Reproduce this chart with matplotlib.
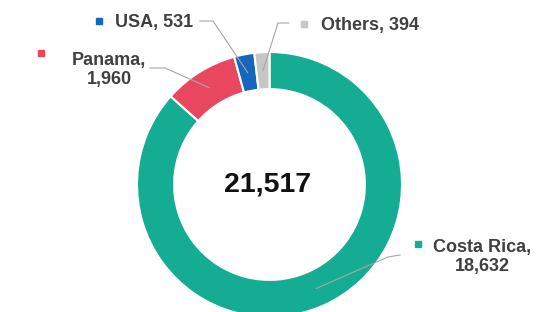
import matplotlib.pyplot as plt
import numpy as np

# data
countries = ['Costa Rica', 'Panama', 'USA', 'Others']
values = [18632, 1960, 531, 394]
colors = ['#14ad94', '#e8475f', '#1766bd', '#c6c6c6']

W, H = 539, 312
cx, cy, R = 269.5, 184.5, 132.5   # donut centre / radius in pixels


def px(x, y):
    # pixel position (origin top-left) -> data coords
    return (x - cx) / R, (cy - y) / R


fig = plt.figure(figsize=(W / 100, H / 100), dpi=100)
ax = fig.add_axes([0, 0, 1, 1])

wedges, _ = ax.pie(values, colors=colors, startangle=90, counterclock=False,
                   radius=1, wedgeprops=dict(width=0.28, edgecolor='white', linewidth=1.5))
ax.set_xlim(-cx / R, (W - cx) / R)
ax.set_ylim(-(H - cy) / R, cy / R)
ax.set_aspect('equal')
ax.axis('off')

total = sum(values)
ax.text(*px(268, 184), f'{total:,}', ha='center', va='center',
        fontsize=20.5, fontweight='bold', color='#111111', family='Liberation Sans')

# label layout: marker pos, text pos, alignment, elbow points
layout = {
    'Costa Rica': ((418, 244), (482, 257), 'center', [(388, 257), (400, 255)]),
    'Panama': ((41, 53), (109, 70), 'center', [(165, 68), (150, 68)]),
    'USA': ((99, 21), (115, 22), 'left', [(213, 21), (200, 21)]),
    'Others': ((304, 24), (321, 25), 'left', [(278, 23), (289, 23)]),
}

for w, name, v, c in zip(wedges, countries, values, colors):
    mid = np.deg2rad((w.theta1 + w.theta2) / 2)
    anchor = (0.86 * np.cos(mid), 0.86 * np.sin(mid))
    mpos, tpos, ha, elbow = layout[name]
    pts = [anchor] + [px(*p) for p in elbow]
    ax.plot([p[0] for p in pts], [p[1] for p in pts], color='#a6a6a6', lw=0.8)
    ax.plot(*px(*mpos), marker='s', ms=4.5, color=c, ls='none')
    if ha == 'center':
        label = f'{name},\n{v:,}'
    else:
        label = f'{name}, {v:,}'
    ax.text(*px(*tpos), label, ha=ha, va='center', multialignment='center',
            fontsize=13, fontweight='bold', color='#404040', family='Liberation Sans')

plt.savefig('out.png', dpi=100)
